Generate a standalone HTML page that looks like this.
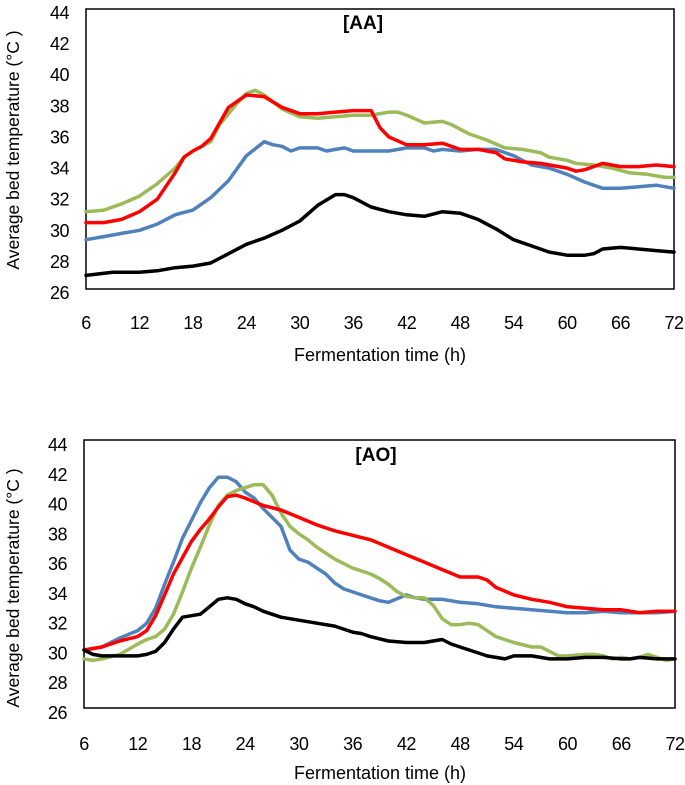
<!DOCTYPE html>
<html><head><meta charset="utf-8">
<style>
html,body{margin:0;padding:0;background:#fff;width:685px;height:785px;overflow:hidden;font-family:"Liberation Sans",sans-serif;}
svg{display:block}
</style></head>
<body>
<svg id="chart" width="685" height="785" viewBox="0 0 685 785" xmlns="http://www.w3.org/2000/svg"></svg>
<script>
const xTicks=[6,12,18,24,30,36,42,48,54,60,66,72];
const yTicks=[26,28,30,32,34,36,38,40,42,44];

const aaBlackX=[6,9,12,14,16,18,20,22,24,26,28,30,32,34,35,36,38,40,42,44,46,48,50,52,54,56,58,60,62,63,64,66,68,70,72];
const aaBlackY=[27.0,27.2,27.2,27.3,27.5,27.6,27.8,28.4,29.0,29.4,29.9,30.5,31.5,32.2,32.2,32.0,31.4,31.1,30.9,30.8,31.1,31.0,30.6,30.0,29.3,28.9,28.5,28.3,28.3,28.4,28.7,28.8,28.7,28.6,28.5];
const aaBlueX=[6,8,10,12,14,16,18,20,22,24,26,27,28,29,30,32,33,35,36,38,40,42,44,45,46,48,50,52,54,56,58,60,62,64,66,68,70,72];
const aaBlueY=[29.3,29.5,29.7,29.9,30.3,30.9,31.2,32.0,33.1,34.7,35.6,35.4,35.3,35.0,35.2,35.2,35.0,35.2,35.0,35.0,35.0,35.2,35.2,35.0,35.1,35.0,35.1,35.1,34.7,34.1,33.9,33.5,33.0,32.6,32.6,32.7,32.8,32.6];
const aaRedX=[6,8,10,12,14,16,17,18,19,20,22,24,26,28,30,32,34,36,38,39,40,42,44,46,48,50,52,53,55,57,60,61,62,64,66,68,70,72];
const aaRedY=[30.4,30.4,30.6,31.1,31.9,33.6,34.6,35.0,35.3,35.8,37.8,38.6,38.5,37.8,37.4,37.4,37.5,37.6,37.6,36.5,35.9,35.4,35.4,35.5,35.1,35.1,34.9,34.5,34.3,34.2,33.9,33.7,33.8,34.2,34.0,34.0,34.1,34.0];
const aaGreenX=[6,8,10,12,14,16,17,18,20,21,23,24,25,26,28,30,32,34,36,38,40,41,42,44,46,47,49,51,53,55,57,58,60,61,63,65,67,69,71,72];
const aaGreenY=[31.1,31.2,31.6,32.1,32.9,33.9,34.6,35.0,35.6,36.7,38.1,38.7,38.9,38.6,37.7,37.2,37.1,37.2,37.3,37.3,37.5,37.5,37.3,36.8,36.9,36.7,36.1,35.7,35.2,35.1,34.9,34.6,34.4,34.2,34.1,33.9,33.6,33.5,33.3,33.3];

const aoBlueX=[6,8,10,12,13,14,15,16,17,18,19,20,21,22,23,24,25,26,27,28,29,30,31,32,33,34,35,36,37,38,39,40,42,43,44,46,48,50,52,54,56,58,60,62,64,66,68,70,72];
const aoBlueY=[30.1,30.3,30.9,31.4,31.9,32.9,34.5,36.0,37.6,38.8,40.0,41.0,41.7,41.7,41.4,40.7,40.3,39.6,39.0,38.4,36.8,36.2,36.0,35.6,35.2,34.6,34.2,34.0,33.8,33.6,33.4,33.3,33.8,33.6,33.5,33.5,33.3,33.2,33.0,32.9,32.8,32.7,32.6,32.6,32.7,32.6,32.6,32.6,32.7];
const aoRedX=[6,8,10,12,13,14,15,16,17,18,19,20,21,22,23,24,26,28,30,32,34,36,38,40,42,44,46,48,50,51,52,54,56,58,60,62,64,66,68,70,72];
const aoRedY=[30.1,30.3,30.7,31.0,31.4,32.4,33.8,35.2,36.3,37.4,38.2,38.9,39.7,40.4,40.5,40.3,39.8,39.5,39.0,38.5,38.1,37.8,37.5,37.0,36.5,36.0,35.5,35.0,35.0,34.8,34.3,33.8,33.5,33.3,33.0,32.9,32.8,32.8,32.6,32.7,32.7];
const aoGreenX=[6,7,8,10,12,13,14,15,16,17,18,19,20,21,22,23,24,25,26,27,28,29,30,31,32,33,34,35,36,37,38,39,40,41,42,43,44,45,46,47,48,49,50,51,52,54,56,57,58,59,60,62,63,64,65,66,67,68,69,70,71,72];
const aoGreenY=[29.5,29.4,29.5,29.8,30.5,30.8,31.0,31.5,32.5,34.0,35.6,37.0,38.5,39.8,40.5,40.8,41.0,41.2,41.2,40.5,39.3,38.4,37.9,37.5,37.0,36.6,36.2,35.9,35.6,35.4,35.2,34.9,34.5,34.0,33.7,33.6,33.6,33.1,32.2,31.8,31.8,31.9,31.8,31.4,31.0,30.6,30.3,30.3,30.0,29.7,29.7,29.8,29.8,29.7,29.5,29.6,29.5,29.6,29.8,29.6,29.4,29.5];
const aoBlackX=[6,7,8,10,12,13,14,15,16,17,18,19,20,21,22,23,24,25,26,27,28,30,32,34,35,36,37,38,40,42,44,45,46,47,48,50,51,53,54,56,58,60,62,63,64,66,67,68,70,72];
const aoBlackY=[30.1,29.8,29.7,29.7,29.7,29.8,30.0,30.6,31.5,32.3,32.4,32.5,33.0,33.5,33.6,33.5,33.2,33.0,32.7,32.5,32.3,32.1,31.9,31.7,31.5,31.3,31.2,31.0,30.7,30.6,30.6,30.7,30.8,30.5,30.3,29.9,29.7,29.5,29.7,29.7,29.5,29.5,29.6,29.6,29.6,29.5,29.5,29.6,29.5,29.5];

const NS='http://www.w3.org/2000/svg';
const svg=document.getElementById('chart');
function mk(tag,attrs,parent){const e=document.createElementNS(NS,tag);for(const k in attrs)e.setAttribute(k,attrs[k]);(parent||svg).appendChild(e);return e;}

function drawPanel(p){
  const g=mk('g',{});
  
  
  const xs=h=>p.left+(h-6)/66*(p.right-p.left);
  const ys=v=>p.dBottom-(v-26)/18*(p.dBottom-p.dTop);
  const lys=v=>p.lblBottom-(v-26)/18*(p.lblBottom-p.lblTop);
  const box=mk('rect',{x:p.left,y:p.top,width:p.right-p.left,height:p.bottom-p.top,fill:'none',stroke:'#000','stroke-width':1.5},g);
  
  
  yTicks.forEach(v=>{
    const t=mk('text',{x:p.left-17,y:lys(v)+6,'text-anchor':'end','font-size':18,'letter-spacing':-0.5,fill:'#000'},g);
    
    
    t.textContent=v;
  });
  xTicks.forEach(h=>{
    const t=mk('text',{x:xs(h),y:p.xLblY,'text-anchor':'middle','font-size':18,'letter-spacing':-0.5,fill:'#000'},g);
    
    
    t.textContent=h;
  });
  const title=mk('text',{x:p.titleX,y:p.titleY,'text-anchor':'middle','font-size':19,'font-weight':'bold',fill:'#000'},g);
  
  
  title.textContent=p.title;
  const yt=mk('text',{x:0,y:0,'text-anchor':'middle','font-size':17.5,fill:'#000',transform:`translate(19,${p.yTitleY}) rotate(-90)`},g);
  
  
  yt.textContent='Average bed temperature (°C )';
  const xt=mk('text',{x:380,y:p.xTitleY,'text-anchor':'middle','font-size':18,fill:'#000'},g);
  
  
  xt.textContent='Fermentation time (h)';
  p.series.forEach(s=>{
    const d=s.x.map((h,i)=>(i?'L':'M')+xs(h).toFixed(1)+','+ys(s.y[i]).toFixed(1)).join(' ');
    const path=mk('path',{d:d,fill:'none',stroke:s.color,'stroke-width':3.5,'stroke-linejoin':'round','stroke-linecap':'round'},g);
    
    
  });
}

drawPanel({name:'panel-aa',title:'[AA]',left:86,right:674,top:9,bottom:289,dTop:11,dBottom:291,lblTop:13,lblBottom:293,xLblY:329,titleX:363,titleY:29,yTitleY:150,xTitleY:361,
  series:[{name:'series-blue-aa',color:'#4f81bd',x:aaBlueX,y:aaBlueY},{name:'series-green-aa',color:'#9bbb59',x:aaGreenX,y:aaGreenY},{name:'series-red-aa',color:'#ff0000',x:aaRedX,y:aaRedY},{name:'series-black-aa',color:'#000000',x:aaBlackX,y:aaBlackY}]});
drawPanel({name:'panel-ao',title:'[AO]',left:84,right:675,top:440,bottom:708,dTop:443,dBottom:711,lblTop:445,lblBottom:713,xLblY:750,titleX:376,titleY:461,yTitleY:588,xTitleY:779,
  series:[{name:'series-blue-ao',color:'#4f81bd',x:aoBlueX,y:aoBlueY},{name:'series-green-ao',color:'#9bbb59',x:aoGreenX,y:aoGreenY},{name:'series-red-ao',color:'#ff0000',x:aoRedX,y:aoRedY},{name:'series-black-ao',color:'#000000',x:aoBlackX,y:aoBlackY}]});
</script>
</body></html>
